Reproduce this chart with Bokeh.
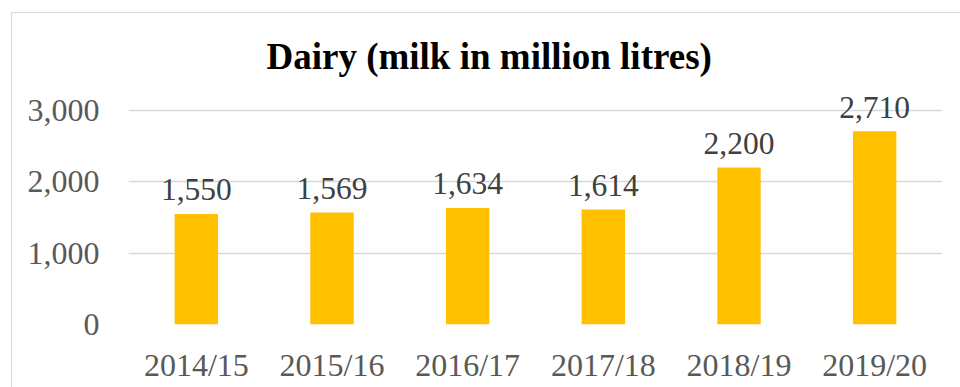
from bokeh.plotting import figure
from bokeh.models import ColumnDataSource, FactorRange, Range1d, FixedTicker, NumeralTickFormatter, InlineStyleSheet
from bokeh.core.properties import value
from bokeh.embed import file_html
from bokeh.resources import INLINE

years = ["2014/15", "2015/16", "2016/17", "2017/18", "2018/19", "2019/20"]
milk = [1550, 1569, 1634, 1614, 2200, 2710]
y_ticks = [0, 1000, 2000, 3000]
title_text = "Dairy (milk in million litres)"

labels = [f"{v:,}" for v in milk]
src = ColumnDataSource(dict(x=years, y=milk, lab=labels))

SERIF = "Liberation Serif"

p = figure(width=960, height=387,
           x_range=FactorRange(factors=years, range_padding=0),
           y_range=Range1d(0, 3407),
           output_backend="svg", toolbar_location=None,
           min_border_left=128, min_border_right=18,
           min_border_top=81, min_border_bottom=63)

p.vbar(x="x", top="y", width=0.32, source=src, fill_color="#FFC000", line_color=None)
p.text(x="x", y="y", text="lab", source=src, text_align="center",
       text_baseline="alphabetic", y_offset=-24,
       text_font=value(SERIF), text_font_size="31.5px", text_color="#404040")

p.title.text = title_text
p.title.text_font = SERIF
p.title.text_font_style = "bold"
p.title.text_font_size = "37px"
p.title.text_color = "#000000"
p.title.align = "left"
p.title.offset = 138

p.yaxis.ticker = FixedTicker(ticks=y_ticks)
p.yaxis.formatter = NumeralTickFormatter(format="0,0")
p.ygrid.ticker = FixedTicker(ticks=y_ticks)
p.ygrid.grid_line_color = "#D9D9D9"
p.ygrid.grid_line_width = 1.5
p.xgrid.visible = False

for ax in (p.xaxis[0], p.yaxis[0]):
    ax.axis_line_color = None
    ax.major_tick_line_color = None
    ax.minor_tick_line_color = None
    ax.major_label_text_font = SERIF
    ax.major_label_text_font_size = "32px"
    ax.major_label_text_color = "#595959"
p.yaxis.major_label_standoff = 23
p.xaxis.major_label_standoff = 16

p.outline_line_color = None
p.background_fill_color = "white"
p.border_fill_color = "white"

p.stylesheets = [InlineStyleSheet(css=":host::after{content:'';position:absolute;left:11px;top:12px;width:980px;height:420px;border:1.5px solid #d9d9d9;pointer-events:none;}")]

open("out.html", "w").write(file_html(p, INLINE))
